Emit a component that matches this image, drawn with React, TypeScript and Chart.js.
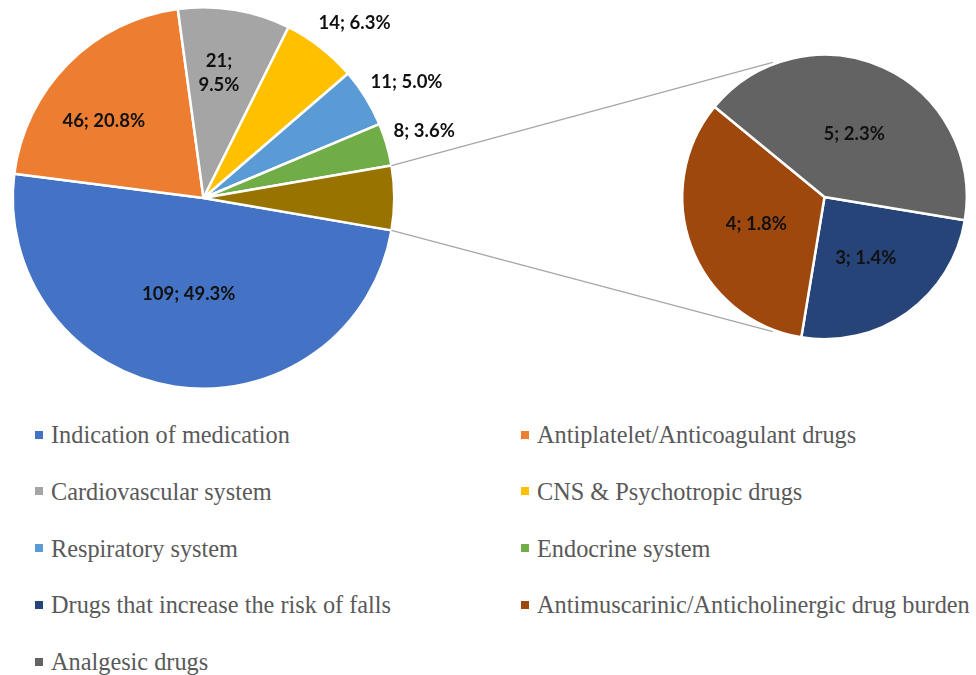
import React, { useEffect, useRef } from "react";
import { Chart, registerables } from "chart.js";

Chart.register(...registerables);

// ---- Data ----
const mainCategories = [
  "Indication of medication",
  "Antiplatelet/Anticoagulant drugs",
  "Cardiovascular system",
  "CNS & Psychotropic drugs",
  "Respiratory system",
  "Endocrine system",
  "Other",
];
const mainValues = [109, 46, 21, 14, 11, 8, 12];
const mainColors = ["#4472C4", "#ED7D31", "#A5A5A5", "#FFC000", "#5B9BD5", "#70AD47", "#997300"];

const subCategories = [
  "Drugs that increase the risk of falls",
  "Antimuscarinic/Anticholinergic drug burden",
  "Analgesic drugs",
];
const subValues = [3, 4, 5];
const subColors = ["#264478", "#9E480E", "#636363"];

const grandTotal = mainValues.reduce((a, b) => a + b, 0);

// label placement (radial factor of outer radius, angle tweak in degrees, wrap)
const mainLabelPlacement: any[] = [
  { r: 0.507, da: 0.2 },
  { r: 0.659, da: -7.3 },
  { r: 0.66, da: -2.3, wrap: true },
  { r: 1.213, da: 2.9 },
  { r: 1.225, da: 2.1 },
  { r: 1.21, da: -0.7 },
  null,
];
const subLabelPlacement: any[] = [
  { r: 0.52, da: 1.7 },
  { r: 0.516, da: -1.2 },
  { r: 0.487, da: 1 },
];

const W = 976;
const H = 400;

function makeLabelPlugin(id: string, placements: any[]) {
  return {
    id,
    afterDatasetsDraw(chart: any) {
      const ctx = chart.ctx;
      const meta = chart.getDatasetMeta(0);
      const data = chart.data.datasets[0].data as number[];
      ctx.save();
      ctx.font = "bold 18.5px Lato";
      ctx.fillStyle = "#111111";
      ctx.textAlign = "center";
      ctx.textBaseline = "middle";
      meta.data.forEach((arc: any, i: number) => {
        const p = placements[i];
        if (!p) return;
        const { x, y, startAngle, endAngle, outerRadius } = arc.getProps(
          ["x", "y", "startAngle", "endAngle", "outerRadius"],
          true
        );
        const a = (startAngle + endAngle) / 2 + (p.da * Math.PI) / 180;
        const cx = x + Math.cos(a) * outerRadius * p.r;
        const cy = y + Math.sin(a) * outerRadius * p.r;
        const v = data[i];
        const pct = ((v / grandTotal) * 100).toFixed(1) + "%";
        if (p.wrap) {
          ctx.fillText(`${v};`, cx, cy - 12);
          ctx.fillText(pct, cx, cy + 12);
        } else {
          ctx.fillText(`${v}; ${pct}`, cx, cy);
        }
      });
      ctx.restore();
    },
  };
}

export default function App() {
  const mainRef = useRef<HTMLCanvasElement>(null);
  const subRef = useRef<HTMLCanvasElement>(null);

  useEffect(() => {
    const mainChart = new Chart(mainRef.current!, {
      type: "pie",
      data: {
        labels: mainCategories,
        datasets: [
          {
            data: mainValues,
            backgroundColor: mainColors,
            borderColor: "#ffffff",
            borderWidth: 2.5,
          },
        ],
      },
      options: {
        animation: false,
        responsive: false,
        rotation: 99.77,
        layout: { padding: { left: 11.5, top: 6, right: W - 395.5, bottom: H - 390 } },
        plugins: { legend: { display: false }, tooltip: { enabled: false } },
      },
      plugins: [makeLabelPlugin("mainLabels", mainLabelPlacement)],
    });

    const connectorPlugin = {
      id: "connectors",
      beforeDatasetsDraw(chart: any) {
        const m = mainChart.getDatasetMeta(0).data[mainValues.length - 1] as any;
        const mp = m.getProps(["x", "y", "startAngle", "endAngle", "outerRadius"], true);
        const s = chart.getDatasetMeta(0).data[0] as any;
        const sp = s.getProps(["x", "y", "outerRadius"], true);
        const ctx = chart.ctx;
        ctx.save();
        ctx.strokeStyle = "#A6A6A6";
        ctx.lineWidth = 1.2;
        const tA = Math.PI + (69 * Math.PI) / 180;
        const bA = Math.PI - (69 * Math.PI) / 180;
        const R2 = sp.outerRadius + 2;
        ctx.beginPath();
        ctx.moveTo(mp.x + Math.cos(mp.startAngle) * mp.outerRadius, mp.y + Math.sin(mp.startAngle) * mp.outerRadius);
        ctx.lineTo(sp.x + Math.cos(tA) * R2, sp.y + Math.sin(tA) * R2);
        ctx.moveTo(mp.x + Math.cos(mp.endAngle) * mp.outerRadius, mp.y + Math.sin(mp.endAngle) * mp.outerRadius);
        ctx.lineTo(sp.x + Math.cos(bA) * R2, sp.y + Math.sin(bA) * R2);
        ctx.stroke();
        ctx.restore();
      },
    };

    const subChart = new Chart(subRef.current!, {
      type: "pie",
      data: {
        labels: subCategories,
        datasets: [
          {
            data: subValues,
            backgroundColor: subColors,
            borderColor: "#ffffff",
            borderWidth: 2.5,
          },
        ],
      },
      options: {
        animation: false,
        responsive: false,
        rotation: 99.4,
        layout: { padding: { left: 681, top: 53.5, right: W - 968, bottom: H - 340.5 } },
        plugins: { legend: { display: false }, tooltip: { enabled: false } },
      },
      plugins: [connectorPlugin, makeLabelPlugin("subLabels", subLabelPlacement)],
    });

    return () => {
      subChart.destroy();
      mainChart.destroy();
    };
  }, []);

  const legendItems = [
    ...mainCategories.slice(0, mainCategories.length - 1).map((c, i) => ({ c, col: mainColors[i] })),
    ...subCategories.map((c, i) => ({ c, col: subColors[i] })),
  ];

  return (
    <div style={{ position: "absolute", left: 0, top: 0, width: W, height: 675, background: "#fff", overflow: "hidden" }}>
      <canvas ref={mainRef} width={W} height={H} style={{ position: "absolute", left: 0, top: 0, width: W, height: H }} />
      <canvas ref={subRef} width={W} height={H} style={{ position: "absolute", left: 0, top: 0, width: W, height: H }} />
      {legendItems.map((it, i) => {
        const col = i % 2;
        const row = Math.floor(i / 2);
        return (
          <div
            key={it.c}
            style={{
              position: "absolute",
              left: col === 0 ? 35 : 521,
              top: 423 + row * 56.8,
              height: 24,
              display: "flex",
              alignItems: "center",
              whiteSpace: "nowrap",
              fontFamily: "'Liberation Serif', 'Times New Roman', serif",
              fontSize: 24.3,
              lineHeight: "24px",
              color: "#595959",
            }}
          >
            <span style={{ display: "inline-block", width: 8, height: 8, background: it.col, marginRight: 8, marginTop: -1 }} />
            <span>{it.c}</span>
          </div>
        );
      })}
    </div>
  );
}
